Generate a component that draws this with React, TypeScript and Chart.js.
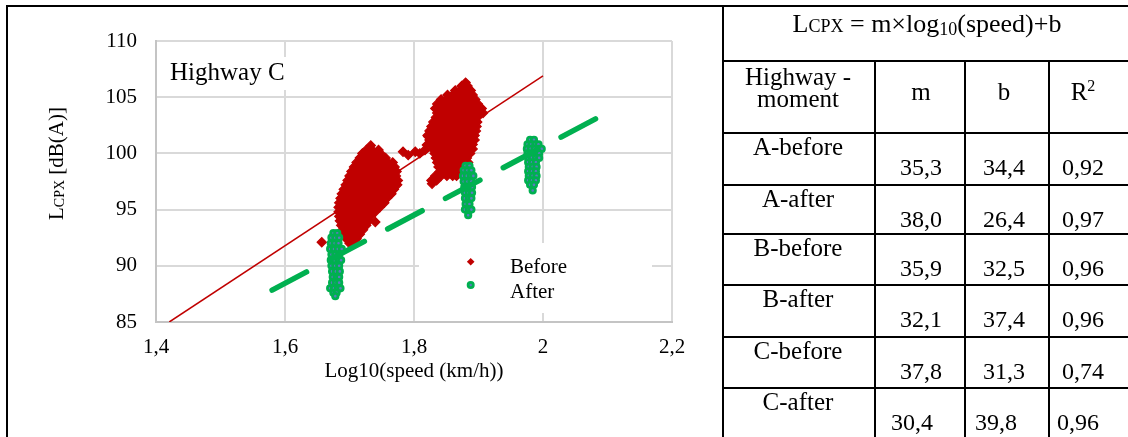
import React, { useEffect, useRef } from 'react';
import { Chart, registerables } from 'chart.js';

Chart.register(...registerables);

const SERIF = '"Liberation Serif", "Times New Roman", Times, serif';

// ---- axes ----
const xTickValues = [1.4, 1.6, 1.8, 2.0, 2.2];
const xTickLabels = ['1,4', '1,6', '1,8', '2', '2,2'];
const yTickValues = [85, 90, 95, 100, 105, 110];

// ---- data (rows: [y, x-values]) ----
type Row = [number, number[]];

const beforeLowSpeed: Row[] = [
  [100.7, [1.733]],
  [100.3, [1.726, 1.735, 1.745]],
  [100.0, [1.720, 1.729, 1.738, 1.748]],
  [99.6, [1.716, 1.724, 1.732, 1.740, 1.748, 1.756]],
  [99.2, [1.711, 1.719, 1.727, 1.735, 1.743, 1.751, 1.759, 1.767]],
  [98.8, [1.707, 1.715, 1.723, 1.731, 1.739, 1.747, 1.755, 1.763, 1.770]],
  [98.4, [1.703, 1.711, 1.719, 1.727, 1.735, 1.743, 1.751, 1.759, 1.767, 1.773]],
  [98.0, [1.700, 1.708, 1.716, 1.724, 1.732, 1.740, 1.748, 1.756, 1.764, 1.772]],
  [97.6, [1.697, 1.705, 1.713, 1.721, 1.729, 1.737, 1.745, 1.753, 1.761, 1.769, 1.775]],
  [97.2, [1.694, 1.702, 1.710, 1.718, 1.726, 1.734, 1.742, 1.750, 1.758, 1.766, 1.774]],
  [96.8, [1.691, 1.699, 1.707, 1.715, 1.723, 1.731, 1.739, 1.747, 1.755, 1.763, 1.769]],
  [96.4, [1.688, 1.696, 1.704, 1.712, 1.720, 1.728, 1.736, 1.744, 1.752, 1.760, 1.765]],
  [96.0, [1.686, 1.694, 1.702, 1.710, 1.718, 1.726, 1.734, 1.742, 1.750, 1.758]],
  [95.6, [1.684, 1.692, 1.700, 1.708, 1.716, 1.724, 1.732, 1.740, 1.748, 1.754]],
  [95.2, [1.683, 1.691, 1.699, 1.707, 1.715, 1.723, 1.731, 1.739, 1.747]],
  [94.8, [1.683, 1.691, 1.699, 1.707, 1.715, 1.723, 1.731, 1.740]],
  [94.4, [1.684, 1.692, 1.700, 1.708, 1.716, 1.724, 1.733]],
  [94.0, [1.685, 1.693, 1.701, 1.709, 1.717, 1.725, 1.730]],
  [93.6, [1.687, 1.695, 1.703, 1.711, 1.719, 1.726]],
  [93.2, [1.689, 1.697, 1.705, 1.713, 1.721]],
  [92.8, [1.692, 1.700, 1.708, 1.716]],
  [92.4, [1.695, 1.703, 1.711]],
  [92.0, [1.700, 1.707]],
];

const beforeHighSpeed: Row[] = [
  [106.3, [1.880]],
  [106.0, [1.874, 1.883]],
  [105.6, [1.864, 1.872, 1.880, 1.888]],
  [105.2, [1.852, 1.860, 1.868, 1.876, 1.884, 1.891]],
  [104.8, [1.842, 1.850, 1.858, 1.866, 1.874, 1.882, 1.890, 1.895]],
  [104.4, [1.836, 1.844, 1.852, 1.860, 1.868, 1.876, 1.884, 1.892, 1.899]],
  [104.0, [1.833, 1.841, 1.849, 1.857, 1.865, 1.873, 1.881, 1.889, 1.897, 1.905]],
  [103.6, [1.836, 1.844, 1.852, 1.860, 1.868, 1.876, 1.884, 1.892, 1.900, 1.907]],
  [103.2, [1.834, 1.842, 1.850, 1.858, 1.866, 1.874, 1.882, 1.890, 1.898]],
  [102.8, [1.830, 1.838, 1.846, 1.854, 1.862, 1.870, 1.878, 1.886, 1.894, 1.898]],
  [102.4, [1.827, 1.835, 1.843, 1.851, 1.859, 1.867, 1.875, 1.883, 1.891, 1.897]],
  [102.0, [1.824, 1.832, 1.840, 1.848, 1.856, 1.864, 1.872, 1.880, 1.888, 1.896]],
  [101.6, [1.821, 1.829, 1.837, 1.845, 1.853, 1.861, 1.869, 1.877, 1.885, 1.894]],
  [101.2, [1.824, 1.832, 1.840, 1.848, 1.856, 1.864, 1.872, 1.880, 1.888, 1.894]],
  [100.8, [1.827, 1.835, 1.843, 1.851, 1.859, 1.867, 1.875, 1.883, 1.891]],
  [100.4, [1.829, 1.837, 1.845, 1.853, 1.861, 1.869, 1.877, 1.885, 1.891]],
  [100.0, [1.832, 1.840, 1.848, 1.856, 1.864, 1.872, 1.880, 1.887]],
  [99.6, [1.834, 1.842, 1.850, 1.858, 1.866, 1.874, 1.882]],
  [99.2, [1.836, 1.844, 1.852, 1.860, 1.868, 1.876, 1.884]],
  [98.8, [1.838, 1.846, 1.854, 1.862, 1.870, 1.878]],
  [98.4, [1.840, 1.848, 1.856, 1.864, 1.871]],
  [98.0, [1.833, 1.842, 1.851, 1.860, 1.866]],
  [97.6, [1.827, 1.835]],
  [97.3, [1.828]],
];

const beforeStray: [number, number][] = [
  [1.657, 92.1], [1.740, 93.9], [1.783, 100.15], [1.791, 99.85], [1.802, 100.15],
  [1.809, 100.0], [1.817, 100.3], [1.820, 100.75], [1.822, 101.5],
];

const afterLowSpeed: Row[] = [
  [92.9, [1.675, 1.681]],
  [92.5, [1.672, 1.678, 1.684]],
  [92.0, [1.671, 1.677, 1.683]],
  [91.5, [1.670, 1.676, 1.682, 1.688]],
  [91.0, [1.672, 1.678, 1.684]],
  [90.5, [1.671, 1.677, 1.683, 1.687]],
  [90.0, [1.672, 1.678, 1.684]],
  [89.5, [1.673, 1.679, 1.685]],
  [89.0, [1.674, 1.680, 1.684]],
  [88.5, [1.673, 1.679, 1.684]],
  [88.0, [1.670, 1.676, 1.682, 1.686]],
  [87.6, [1.675, 1.680]],
  [87.3, [1.678]],
];

const afterMidSpeed: Row[] = [
  [98.9, [1.880, 1.886]],
  [98.5, [1.877, 1.883, 1.889]],
  [98.0, [1.876, 1.882, 1.888, 1.892]],
  [97.5, [1.877, 1.883, 1.889]],
  [97.0, [1.878, 1.884, 1.890]],
  [96.5, [1.879, 1.885, 1.890]],
  [96.0, [1.879, 1.885, 1.889]],
  [95.5, [1.880, 1.886]],
  [95.0, [1.879, 1.885, 1.889]],
  [94.5, [1.884]],
];

const afterHighSpeed: Row[] = [
  [101.2, [1.980, 1.986]],
  [100.8, [1.976, 1.982, 1.988, 1.993]],
  [100.4, [1.975, 1.981, 1.987, 1.993, 1.998]],
  [100.0, [1.976, 1.982, 1.988, 1.994]],
  [99.6, [1.977, 1.983, 1.989, 1.994]],
  [99.2, [1.977, 1.983, 1.989]],
  [98.8, [1.978, 1.984, 1.990]],
  [98.4, [1.977, 1.983, 1.989]],
  [98.0, [1.978, 1.984, 1.990]],
  [97.6, [1.977, 1.983, 1.989]],
  [97.2, [1.980, 1.986]],
  [96.7, [1.984]],
];

// trendline end points (from the fitted lines)
const beforeTrend: [number, number][] = [[1.4206, 85.0], [2.0, 106.9]];
const afterTrend: [number, number][] = [[1.58, 87.83], [2.085, 103.18]];

// ---- table ----
const tableMoments = ['A-before', 'A-after', 'B-before', 'B-after', 'C-before', 'C-after'];
const tableM = ['35,3', '38,0', '35,9', '32,1', '37,8', '30,4'];
const tableB = ['34,4', '26,4', '32,5', '37,4', '31,3', '39,8'];
const tableR2 = ['0,92', '0,97', '0,96', '0,96', '0,74', '0,96'];

const RED = '#C00000';
const GREEN = '#00B050';
const BLUE_DOT = '#5B79C0';

const rowsToPoints = (rows: Row[]) => rows.flatMap(([y, xs]) => xs.map((x) => ({ x, y })));
const pairsToPoints = (pairs: [number, number][]) => pairs.map(([x, y]) => ({ x, y }));

const overlayPlugin = {
  id: 'overlay',
  beforeDatasetsDraw(chart: any) {
    const { ctx, chartArea: a } = chart;
    ctx.save();
    ctx.fillStyle = '#ffffff';
    ctx.fillRect(a.left + 4, a.top + 16, 138, 33);
    ctx.fillRect(a.left + 263, a.top + 202, 233, 70);

    ctx.fillStyle = '#000';
    ctx.textAlign = 'left';
    ctx.textBaseline = 'alphabetic';
    ctx.font = `25px ${SERIF}`;
    ctx.fillText('Highway C', a.left + 14, a.top + 39);

    ctx.font = `21px ${SERIF}`;
    ctx.fillText('Before', a.left + 354, a.top + 232);
    ctx.fillText('After', a.left + 354, a.top + 257);

    // legend markers
    const mx = a.left + 314.7;
    const my1 = a.top + 220.7;
    const my2 = a.top + 244;
    ctx.fillStyle = RED;
    ctx.beginPath();
    ctx.moveTo(mx - 3.8, my1);
    ctx.lineTo(mx, my1 - 3.8);
    ctx.lineTo(mx + 3.8, my1);
    ctx.lineTo(mx, my1 + 3.8);
    ctx.closePath();
    ctx.fill();
    ctx.beginPath();
    ctx.arc(mx, my2, 2.6, 0, Math.PI * 2);
    ctx.fillStyle = BLUE_DOT;
    ctx.fill();
    ctx.lineWidth = 2.8;
    ctx.strokeStyle = GREEN;
    ctx.stroke();
    ctx.restore();
  },
  afterDraw(chart: any) {
    const { ctx, chartArea: a } = chart;
    ctx.save();
    ctx.fillStyle = '#000';
    ctx.textBaseline = 'alphabetic';
    // x axis title
    ctx.font = `21px ${SERIF}`;
    ctx.textAlign = 'center';
    ctx.fillText('Log10(speed (km/h))', (a.left + a.right) / 2, a.bottom + 55);
    // y axis title
    ctx.translate(a.left - 93, a.top + 179);
    ctx.rotate(-Math.PI / 2);
    ctx.textAlign = 'left';
    ctx.font = `21px ${SERIF}`;
    ctx.fillText('L', 0, 0);
    let w = ctx.measureText('L').width;
    ctx.font = `14px ${SERIF}`;
    ctx.fillText('CPX', w, 1);
    w += ctx.measureText('CPX').width;
    ctx.font = `21px ${SERIF}`;
    ctx.fillText(' [dB(A)]', w, 0);
    ctx.restore();
  },
};

function ScatterChart() {
  const ref = useRef<HTMLCanvasElement | null>(null);
  useEffect(() => {
    if (!ref.current) return;
    const tickFont = { family: SERIF, size: 21 };
    const chart = new Chart(ref.current, {
      type: 'scatter',
      data: {
        datasets: [
          {
            label: 'Before',
            data: [...rowsToPoints(beforeLowSpeed), ...rowsToPoints(beforeHighSpeed), ...pairsToPoints(beforeStray)],
            pointStyle: 'rectRot',
            pointRadius: 4.6,
            backgroundColor: RED,
            borderColor: RED,
            borderWidth: 1.2,
            order: 3,
          },
          {
            label: 'After',
            data: [...rowsToPoints(afterLowSpeed), ...rowsToPoints(afterMidSpeed), ...rowsToPoints(afterHighSpeed)],
            pointStyle: 'circle',
            pointRadius: 2.7,
            borderWidth: 2.8,
            backgroundColor: BLUE_DOT,
            borderColor: GREEN,
            order: 2,
          },
          {
            label: 'Before trend',
            data: pairsToPoints(beforeTrend),
            showLine: true,
            pointRadius: 0,
            borderColor: RED,
            borderWidth: 1.5,
            order: 1,
          },
          {
            label: 'After trend',
            data: pairsToPoints(afterTrend),
            showLine: true,
            pointRadius: 0,
            borderColor: GREEN,
            borderWidth: 5.5,
            borderDash: [39, 26.4],
            borderCapStyle: 'round',
            order: 0,
          },
        ] as any,
      },
      options: {
        animation: false,
        responsive: false,
        maintainAspectRatio: false,
        events: [],
        layout: { padding: { left: 88, top: 34, right: 50, bottom: 63 } },
        plugins: { legend: { display: false }, tooltip: { enabled: false }, title: { display: false } },
        scales: {
          x: {
            type: 'linear',
            min: xTickValues[0],
            max: xTickValues[xTickValues.length - 1],
            afterBuildTicks: (s: any) => {
              s.ticks = xTickValues.map((value) => ({ value }));
            },
            afterFit: (s: any) => {
              s.height = 50;
            },
            grid: { color: '#D9D9D9', lineWidth: 2, drawTicks: false },
            border: { color: '#C4C4C4', width: 2 },
            ticks: {
              padding: 13,
              color: '#000',
              font: tickFont,
              autoSkip: false,
              maxRotation: 0,
              callback: (_v: any, i: number) => xTickLabels[i],
            },
          },
          y: {
            type: 'linear',
            min: yTickValues[0],
            max: yTickValues[yTickValues.length - 1],
            afterBuildTicks: (s: any) => {
              s.ticks = yTickValues.map((value) => ({ value }));
            },
            afterFit: (s: any) => {
              s.width = 60;
            },
            grid: { color: '#D9D9D9', lineWidth: 2, drawTicks: false },
            border: { color: '#C4C4C4', width: 2 },
            ticks: {
              padding: 19,
              color: '#000',
              font: tickFont,
              autoSkip: false,
              callback: (v: any) => String(v),
            },
          },
        },
      } as any,
      plugins: [overlayPlugin],
    });
    return () => chart.destroy();
  }, []);
  return (
    <canvas
      ref={ref}
      width={714}
      height={428}
      style={{ position: 'absolute', left: 8, top: 7, width: 714, height: 428 }}
    />
  );
}

const rowLines = [132, 184, 233, 284, 336, 387];
const colCenters = [798, 921, 1004, 1083];
const lastRowShift = [0, -9, -8, -5];

function Table() {
  const font = SERIF;
  return (
    <svg
      width={1128}
      height={437}
      style={{ position: 'absolute', left: 0, top: 0 }}
      fontFamily={font}
    >
      {/* chart frame */}
      <rect x={6} y={5} width={2} height={432} fill="#000" />
      <rect x={6} y={5} width={1122} height={2} fill="#000" />
      {/* table frame */}
      <rect x={722} y={5} width={2} height={432} fill="#000" />
      <rect x={722} y={60} width={406} height={2} fill="#000" />
      {rowLines.map((y) => (
        <rect key={y} x={722} y={y} width={406} height={2} fill="#000" />
      ))}
      <rect x={874} y={60} width={2} height={377} fill="#000" />
      <rect x={964} y={60} width={2} height={377} fill="#000" />
      <rect x={1048} y={60} width={2} height={377} fill="#000" />

      <text x={927} y={32} textAnchor="middle" fontSize={26} fill="#000">
        L<tspan fontSize={18}>CPX</tspan> = m×log<tspan fontSize={18} dy={3}>10</tspan>
        <tspan dy={-3}>(speed)+b</tspan>
      </text>

      <text x={colCenters[0]} y={85} textAnchor="middle" fontSize={25}>Highway -</text>
      <text x={colCenters[0]} y={107} textAnchor="middle" fontSize={25}>moment</text>
      <text x={colCenters[1]} y={100} textAnchor="middle" fontSize={25}>m</text>
      <text x={colCenters[2]} y={100} textAnchor="middle" fontSize={25}>b</text>
      <text x={colCenters[3]} y={100} textAnchor="middle" fontSize={25}>
        R<tspan fontSize={16} dy={-9}>2</tspan>
      </text>

      {tableMoments.map((name, i) => {
        const top = rowLines[i];
        const shift = i === tableMoments.length - 1 ? lastRowShift : [0, 0, 0, 0];
        return (
          <g key={name} fontSize={24}>
            <text x={colCenters[0] + shift[0]} y={top + 23} textAnchor="middle" fontSize={25}>{name}</text>
            <text x={colCenters[1] + shift[1]} y={top + 43} textAnchor="middle">{tableM[i]}</text>
            <text x={colCenters[2] + shift[2]} y={top + 43} textAnchor="middle">{tableB[i]}</text>
            <text x={colCenters[3] + shift[3]} y={top + 43} textAnchor="middle">{tableR2[i]}</text>
          </g>
        );
      })}
    </svg>
  );
}

export default function App() {
  return (
    <div
      style={{
        position: 'absolute',
        left: 0,
        top: 0,
        width: 1128,
        height: 437,
        overflow: 'hidden',
        background: '#fff',
      }}
    >
      <ScatterChart />
      <Table />
    </div>
  );
}
